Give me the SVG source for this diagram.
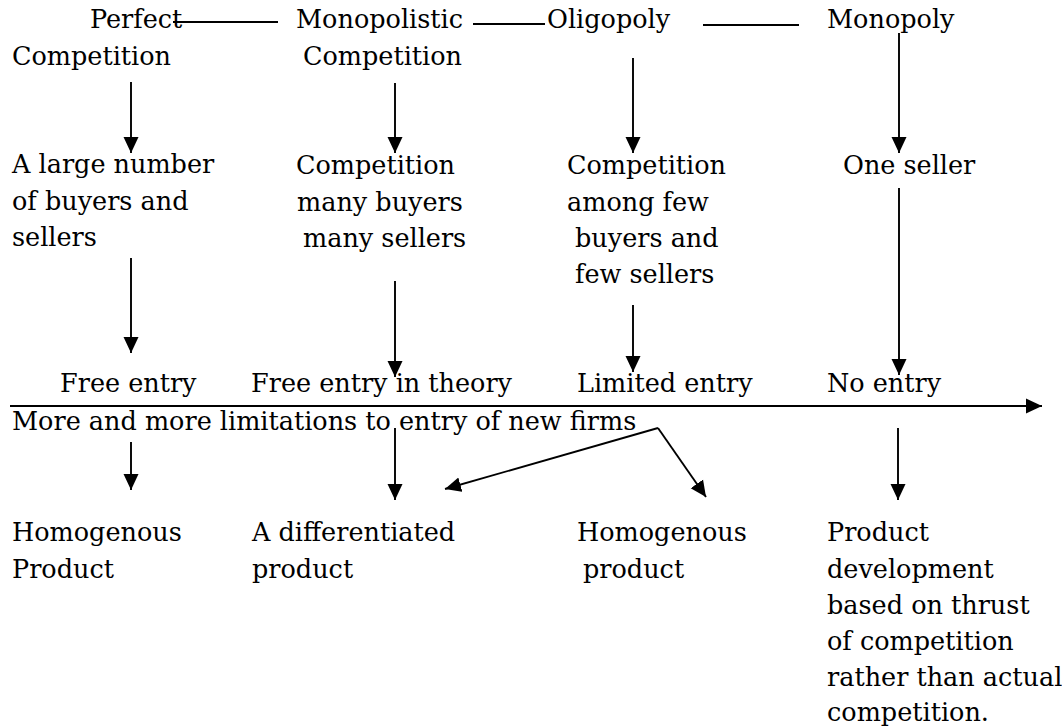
<svg xmlns="http://www.w3.org/2000/svg" width="1062" height="728" viewBox="0 0 1062 728">
  <style>
    text { font-family: "DejaVu Serif", "Liberation Serif", serif; font-size: 25.5px; fill: #000; }
    .ln { stroke: #000; stroke-width: 1.9; fill: none; }
    .ar { stroke: #000; stroke-width: 1.9; fill: none; marker-end: url(#head); }
  </style>
  <defs>
    <marker id="head" markerUnits="userSpaceOnUse" markerWidth="17" markerHeight="16" refX="16" refY="8" orient="auto">
      <path d="M0,0.5 L16,8 L0,15.5 z" fill="#000"/>
    </marker>
  </defs>
  <rect width="1062" height="728" fill="#fff"/>

  <!-- market structures -->
  <g id="perfect"><text x="90" y="28">Perfect</text><text x="12" y="65">Competition</text></g>
  <g id="monopolistic"><text x="296" y="28">Monopolistic</text><text x="303" y="65">Competition</text></g>
  <g id="oligopoly"><text x="547" y="28">Oligopoly</text></g>
  <g id="monopoly"><text x="827" y="28">Monopoly</text></g>

  <!-- number of sellers -->
  <g id="sellers-perfect"><text x="12" y="173">A large number</text><text x="12" y="210">of buyers and</text><text x="12" y="246">sellers</text></g>
  <g id="sellers-monopolistic"><text x="296" y="174">Competition</text><text x="297" y="211">many buyers</text><text x="303" y="247">many sellers</text></g>
  <g id="sellers-oligopoly"><text x="567" y="174">Competition</text><text x="567" y="211">among few</text><text x="575" y="247">buyers and</text><text x="575" y="283">few sellers</text></g>
  <g id="sellers-monopoly"><text x="843" y="174">One seller</text></g>

  <!-- entry conditions -->
  <g id="entry-perfect"><text x="60" y="392">Free entry</text></g>
  <g id="entry-monopolistic"><text x="251" y="392">Free entry in theory</text></g>
  <g id="entry-oligopoly"><text x="577" y="392">Limited entry</text></g>
  <g id="entry-monopoly"><text x="827" y="392">No entry</text></g>
  <g id="entry-axis-label"><text x="12" y="430">More and more limitations to entry of new firms</text></g>

  <!-- product type -->
  <g id="product-perfect"><text x="12" y="541">Homogenous</text><text x="12" y="578">Product</text></g>
  <g id="product-monopolistic"><text x="252" y="541">A differentiated</text><text x="252" y="578">product</text></g>
  <g id="product-oligopoly"><text x="577" y="541">Homogenous</text><text x="583" y="578">product</text></g>
  <g id="product-monopoly">
    <text x="827" y="541">Product</text>
    <text x="827" y="578">development</text>
    <text x="827" y="614">based on thrust</text>
    <text x="827" y="650">of competition</text>
    <text x="827" y="686">rather than actual</text>
    <text x="827" y="721">competition.</text>
  </g>

  <g id="connectors">
    <!-- links between structures -->
    <line class="ln" x1="173" y1="22" x2="278" y2="22"/>
    <line class="ln" x1="473" y1="24" x2="545" y2="24"/>
    <line class="ln" x1="703" y1="25" x2="799" y2="25"/>

    <!-- structure to sellers -->
    <line class="ar" x1="131" y1="82" x2="131" y2="153"/>
    <line class="ar" x1="395" y1="83" x2="395" y2="153"/>
    <line class="ar" x1="633" y1="58" x2="633" y2="153"/>
    <line class="ar" x1="899" y1="33" x2="899" y2="153"/>

    <!-- sellers to entry -->
    <line class="ar" x1="131" y1="258" x2="131" y2="353"/>
    <line class="ar" x1="395" y1="281" x2="395" y2="377"/>
    <line class="ar" x1="633" y1="305" x2="633" y2="372"/>
    <line class="ar" x1="899" y1="188" x2="899" y2="375"/>

    <!-- entry axis -->
    <line class="ar" x1="10" y1="406" x2="1042" y2="406"/>

    <!-- entry to product -->
    <line class="ar" x1="131" y1="442" x2="131" y2="490"/>
    <line class="ar" x1="395" y1="428" x2="395" y2="500"/>
    <line class="ar" x1="898" y1="428" x2="898" y2="500"/>
    <line class="ar" x1="658" y1="428" x2="445" y2="489"/>
    <line class="ar" x1="658" y1="428" x2="706" y2="497"/>
  </g>
</svg>
